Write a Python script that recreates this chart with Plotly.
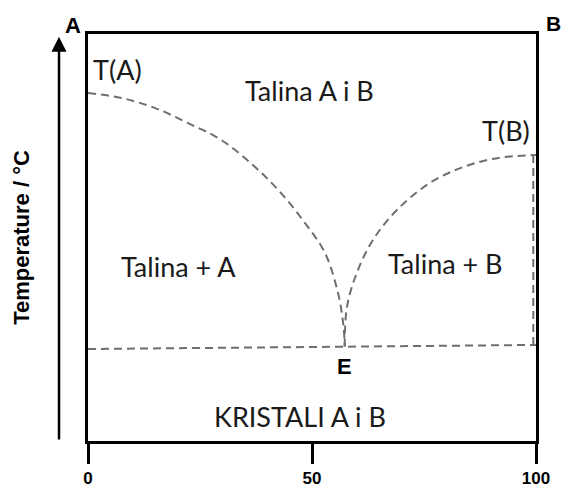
import plotly.graph_objects as go

# liquidus A side (x = % B, y = relative temperature)
liq_a_x = [0, 7.4, 15.0, 22.3, 29.7, 37.3, 43.1, 48.4, 52.9, 55.8, 57.0, 57.3]
liq_a_y = [85.5, 84.3, 81.8, 78.1, 74.0, 67.3, 60.9, 53.6, 46.2, 36.4, 28.5, 23.2]

# liquidus B side
liq_b_x = [57.3, 57.8, 60.0, 63.6, 69.0, 76.3, 83.7, 91.3, 100]
liq_b_y = [23.2, 32.9, 41.3, 49.4, 56.8, 63.4, 67.3, 69.5, 70.3]

# eutectic line and drop at pure B
eut_x = [0, 100]
eut_y = [22.6, 23.6]
edge_x = [99.4, 99.4]
edge_y = [70.3, 23.6]

tick_vals = [0, 50, 100]
tick_text = ["0", "50", "100"]

# region labels: text, x, y
labels = [
    ("T(A)", 6.5, 91.2),
    ("T(B)", 93.3, 76.2),
    ("Talina A i B", 49.5, 86.2),
    ("Talina + A", 20.1, 42.9),
    ("Talina + B", 79.9, 43.6),
    ("KRISTALI A i B", 47.3, 5.9),
]

dash_line = dict(color="#6e6e6e", width=2, dash="8px,5px")

fig = go.Figure()
fig.add_trace(go.Scatter(x=liq_a_x, y=liq_a_y, mode="lines", line=dict(shape="spline", **dash_line)))
fig.add_trace(go.Scatter(x=liq_b_x, y=liq_b_y, mode="lines", line=dict(shape="spline", **dash_line)))
fig.add_trace(go.Scatter(x=eut_x, y=eut_y, mode="lines", line=dash_line))
fig.add_trace(go.Scatter(x=edge_x, y=edge_y, mode="lines", line=dash_line))

for txt, x, y in labels:
    fig.add_annotation(x=x, y=y, text=txt, showarrow=False,
                       font=dict(family="Lato", size=27, color="#1a1a1a"))

# eutectic point label
fig.add_annotation(x=57.3, y=18.4, text="<b>E</b>", showarrow=False,
                   font=dict(family="Arial", size=22, color="black"))

# corner labels
fig.add_annotation(x=-0.0335, y=1.02, xref="paper", yref="paper", text="<b>A</b>",
                   xanchor="center", yanchor="middle",
                   showarrow=False, font=dict(family="Arial", size=22, color="black"))
fig.add_annotation(x=1.039, y=1.027, xref="paper", yref="paper", text="<b>B</b>",
                   xanchor="center", yanchor="middle",
                   showarrow=False, font=dict(family="Arial", size=21, color="black"))

# temperature arrow
fig.add_annotation(x=-0.0647, y=0.993, xref="x domain", yref="y domain",
                   ax=-0.0647, ay=0.0, axref="x domain", ayref="y domain",
                   showarrow=True, arrowhead=2, arrowsize=1.2, arrowwidth=2.5,
                   arrowcolor="black", text="")

fig.update_xaxes(range=[0, 100], showline=True, mirror=True, linecolor="black", linewidth=3,
                 showgrid=False, zeroline=False, ticks="outside", ticklen=20, tickwidth=3,
                 tickcolor="black", tickvals=tick_vals, ticktext=["<b>%s</b>" % t for t in tick_text],
                 tickfont=dict(family="Arial", size=17, color="black"), ticklabelstandoff=0,
                 automargin=False)
fig.update_yaxes(range=[0, 100], showline=True, mirror=True, linecolor="black", linewidth=3,
                 showgrid=False, zeroline=False, showticklabels=False, ticks="",
                 automargin=False,
                 title=dict(text="<b>Temperature / °C</b>", standoff=50,
                            font=dict(family="Arial", size=22, color="black")))

fig.update_layout(width=567, height=488, showlegend=False,
                  margin=dict(l=88, r=31, t=34, b=47),
                  plot_bgcolor="white", paper_bgcolor="white")

# drop the default 8px body margin so the figure sits at the window's corner
fig.write_html("out.html", config={"displayModeBar": False},
               post_script="document.body.style.margin='0';document.body.style.overflow='hidden';")
